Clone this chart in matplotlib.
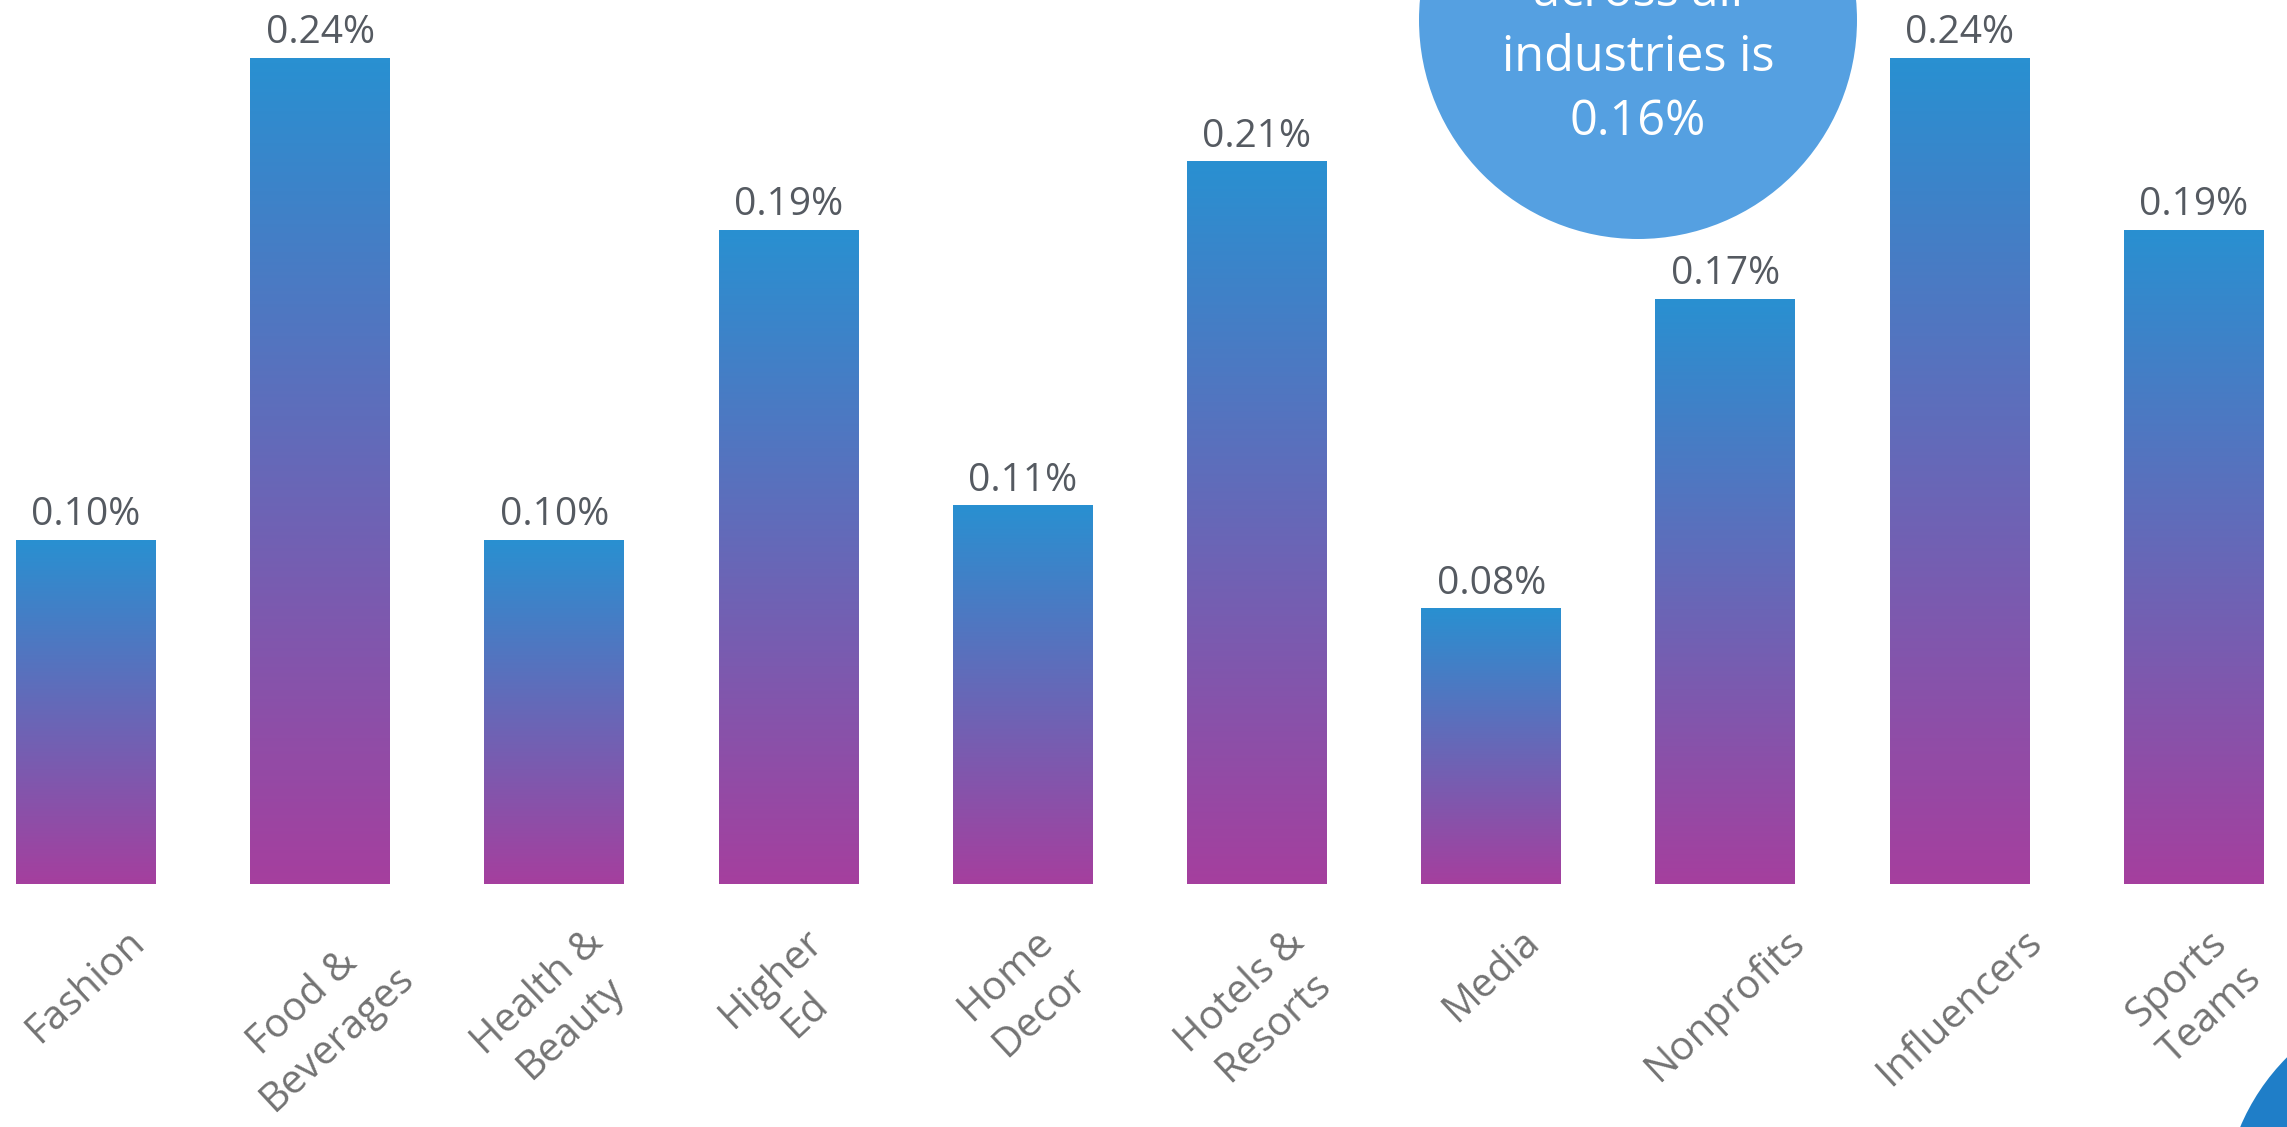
import numpy as np
import matplotlib
matplotlib.use("Agg")
import matplotlib.pyplot as plt
from matplotlib.patches import Ellipse
from matplotlib.colors import LinearSegmentedColormap

categories = ["Fashion", "Food &\nBeverages", "Health &\nBeauty", "Higher\nEd", "Home\nDecor",
              "Hotels &\nResorts", "Media", "Nonprofits", "Influencers", "Sports\nTeams"]
values = [0.10, 0.24, 0.10, 0.19, 0.11, 0.21, 0.08, 0.17, 0.24, 0.19]
value_labels = ["0.10%", "0.24%", "0.10%", "0.19%", "0.11%", "0.21%", "0.08%", "0.17%", "0.24%", "0.19%"]
circle_lines = ["across all", "industries is", "0.16%"]

W, H = 2287, 1127
DPI = 100
plt.rcParams['font.family'] = ['Open Sans', 'DejaVu Sans']

fig = plt.figure(figsize=(W / DPI, H / DPI), dpi=DPI)
fig.patch.set_facecolor('white')

# axes covering full width; baseline at pixel y=884 from top
ax_bottom = (H - 884) / H
ax = fig.add_axes([0, ax_bottom, 1, 1 - ax_bottom])
ax.set_facecolor('none')

x = np.arange(len(values))
bar_w = 140 / 234.2
bars = ax.bar(x, values, width=bar_w, color='none', edgecolor='none', zorder=2)

cmap = LinearSegmentedColormap.from_list('g', ['#a53f9e', '#2990d1'])
grad = np.linspace(0, 1, 256).reshape(-1, 1)
for b in bars:
    x0 = b.get_x()
    x1 = x0 + b.get_width()
    h = b.get_height()
    ax.imshow(grad, cmap=cmap, extent=(x0, x1, 0, h), origin='lower',
              aspect='auto', zorder=2, interpolation='bilinear')

for b, lab in zip(bars, value_labels):
    ax.annotate(lab, (b.get_x() + b.get_width() / 2, b.get_height()),
                xytext=(0, 15 * 72 / DPI), textcoords='offset points',
                ha='center', va='baseline', fontsize=28, color='#555a61', zorder=3)

left = -86 / 234.2
ax.set_xlim(left, left + W / 234.2)
ax.set_ylim(0, 884 / 3440)

ax.set_xticks(x)
ax.set_xticklabels(categories, rotation=43, ha='center', va='top',
                   multialignment='center', fontsize=29, color='#737373',
                   linespacing=1.3)
ax.tick_params(axis='x', length=0, pad=38 * 72 / DPI)
ax.set_yticks([])
for s in ax.spines.values():
    s.set_visible(False)

# Average circle (top)
cx, cy, r = 1638, 20, 219
fig.patches.append(Ellipse((cx / W, 1 - cy / H), 2 * r / W, 2 * r / H,
                           transform=fig.transFigure, facecolor='#55a0e1',
                           edgecolor='none', zorder=5))
for line, yb in zip(circle_lines, [6, 71, 135]):
    fig.text(cx / W, 1 - yb / H, line, ha='center', va='baseline', fontsize=35,
             color='white', zorder=6)

# Partial circle bottom-right
bx, by, br = 2442, 1212, 219
fig.patches.append(Ellipse((bx / W, 1 - by / H), 2 * br / W, 2 * br / H,
                           transform=fig.transFigure, facecolor='#1f7ec8',
                           edgecolor='none', zorder=5))

fig.savefig('out.png', dpi=DPI, facecolor='white')
